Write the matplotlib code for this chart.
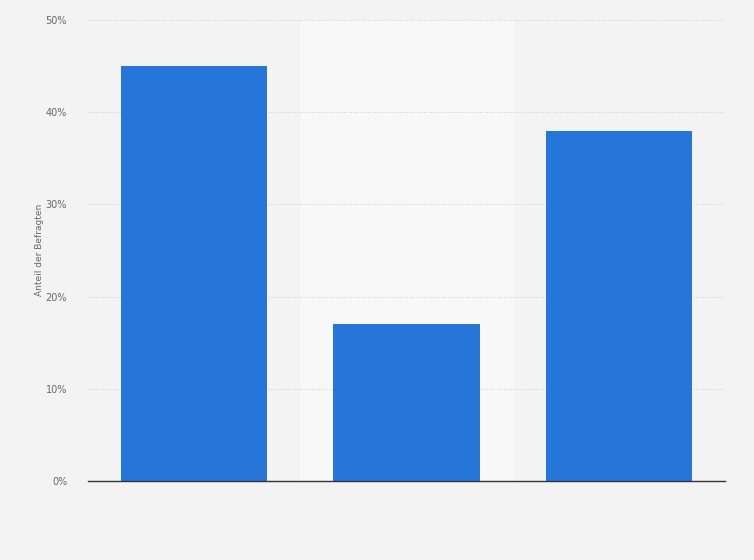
import matplotlib.pyplot as plt
import numpy as np

# Werte aus dem Diagramm (Anteil der Befragten in %)
categories = ["A", "B", "C"]
values = [45, 17, 38]
yticks = [0, 10, 20, 30, 40, 50]

bg = "#f3f3f3"
fig = plt.figure(figsize=(7.54, 5.6), dpi=100, facecolor=bg)
ax = fig.add_axes([88 / 754, 79 / 560, 637 / 754, 461 / 560])
ax.set_facecolor(bg)

x = np.arange(len(categories))
# hellere Hintergrundbänder für jede zweite Kategorie
for i in x:
    if i % 2 == 1:
        ax.axvspan(i - 0.5, i + 0.5, color="#f8f8f8", zorder=0)

ax.bar(x, values, width=0.69, color="#2675d9", zorder=3)

ax.set_xlim(-0.5, len(categories) - 0.5)
ax.set_ylim(0, 50)
ax.set_yticks(yticks)
ax.set_yticklabels([f"{t}%" for t in yticks], fontsize=7, color="#666666")
ax.set_xticks([])
ax.tick_params(axis="y", length=0, pad=15)

ax.grid(axis="y", color="#cfcfcf", linestyle=(0, (1, 1.5)), linewidth=0.7, zorder=1)
for side in ["top", "right", "left"]:
    ax.spines[side].set_visible(False)
ax.spines["bottom"].set_color("#333333")
ax.spines["bottom"].set_linewidth(1.0)
ax.spines["bottom"].set_zorder(4)

ax.set_ylabel("Anteil der Befragten", fontsize=6.5, color="#666666", labelpad=2)
ax.yaxis.set_label_coords(-44 / 637, (481 - 250) / 461)

fig.savefig("out.png", dpi=100, facecolor=bg)
